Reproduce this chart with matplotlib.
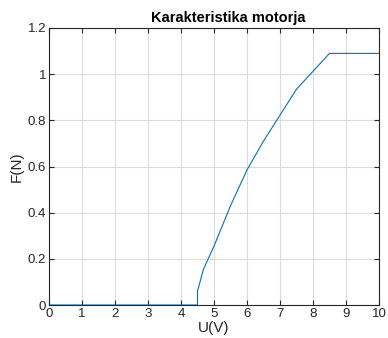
import matplotlib
matplotlib.use("Agg")
import matplotlib.pyplot as plt

plt.rcParams['font.family'] = ['Liberation Sans', 'DejaVu Sans']

U = [0, 4.5, 4.5, 4.68, 5.0, 5.5, 6.0, 6.5, 7.5, 8.5, 10.0]
F = [0, 0, 0.06, 0.155, 0.255, 0.43, 0.585, 0.71, 0.935, 1.09, 1.09]
xticks = [0, 1, 2, 3, 4, 5, 6, 7, 8, 9, 10]
yticks = [0, 0.2, 0.4, 0.6, 0.8, 1.0, 1.2]
ytick_labels = ['0', '0.2', '0.4', '0.6', '0.8', '1', '1.2']

fig = plt.figure(figsize=(3.88, 3.38), dpi=100)
ax = fig.add_axes([49/388, 1-305/338, 330/388, 277/338])
ax.plot(U, F, color='#0072BD', lw=0.8)
ax.set_xlim(0, 10)
ax.set_ylim(0, 1.2)
ax.set_xticks(xticks)
ax.set_yticks(yticks)
ax.set_yticklabels(ytick_labels)
ax.grid(True, color='#DCDCDC', lw=0.8)
ax.set_axisbelow(True)
for s in ax.spines.values():
    s.set_color('#262626')
    s.set_linewidth(0.8)
ax.tick_params(direction='in', top=True, right=True, length=3.5, width=0.8,
               colors='#262626', labelsize=9.5, pad=2)
ax.set_xlabel('U(V)', fontsize=11, color='#262626', labelpad=1)
ax.set_ylabel('F(N)', fontsize=11, color='#262626', labelpad=3)
ax.set_title('Karakteristika motorja', fontsize=10.5, fontweight='bold', pad=4, x=0.544)
fig.savefig('out.png', dpi=100)
